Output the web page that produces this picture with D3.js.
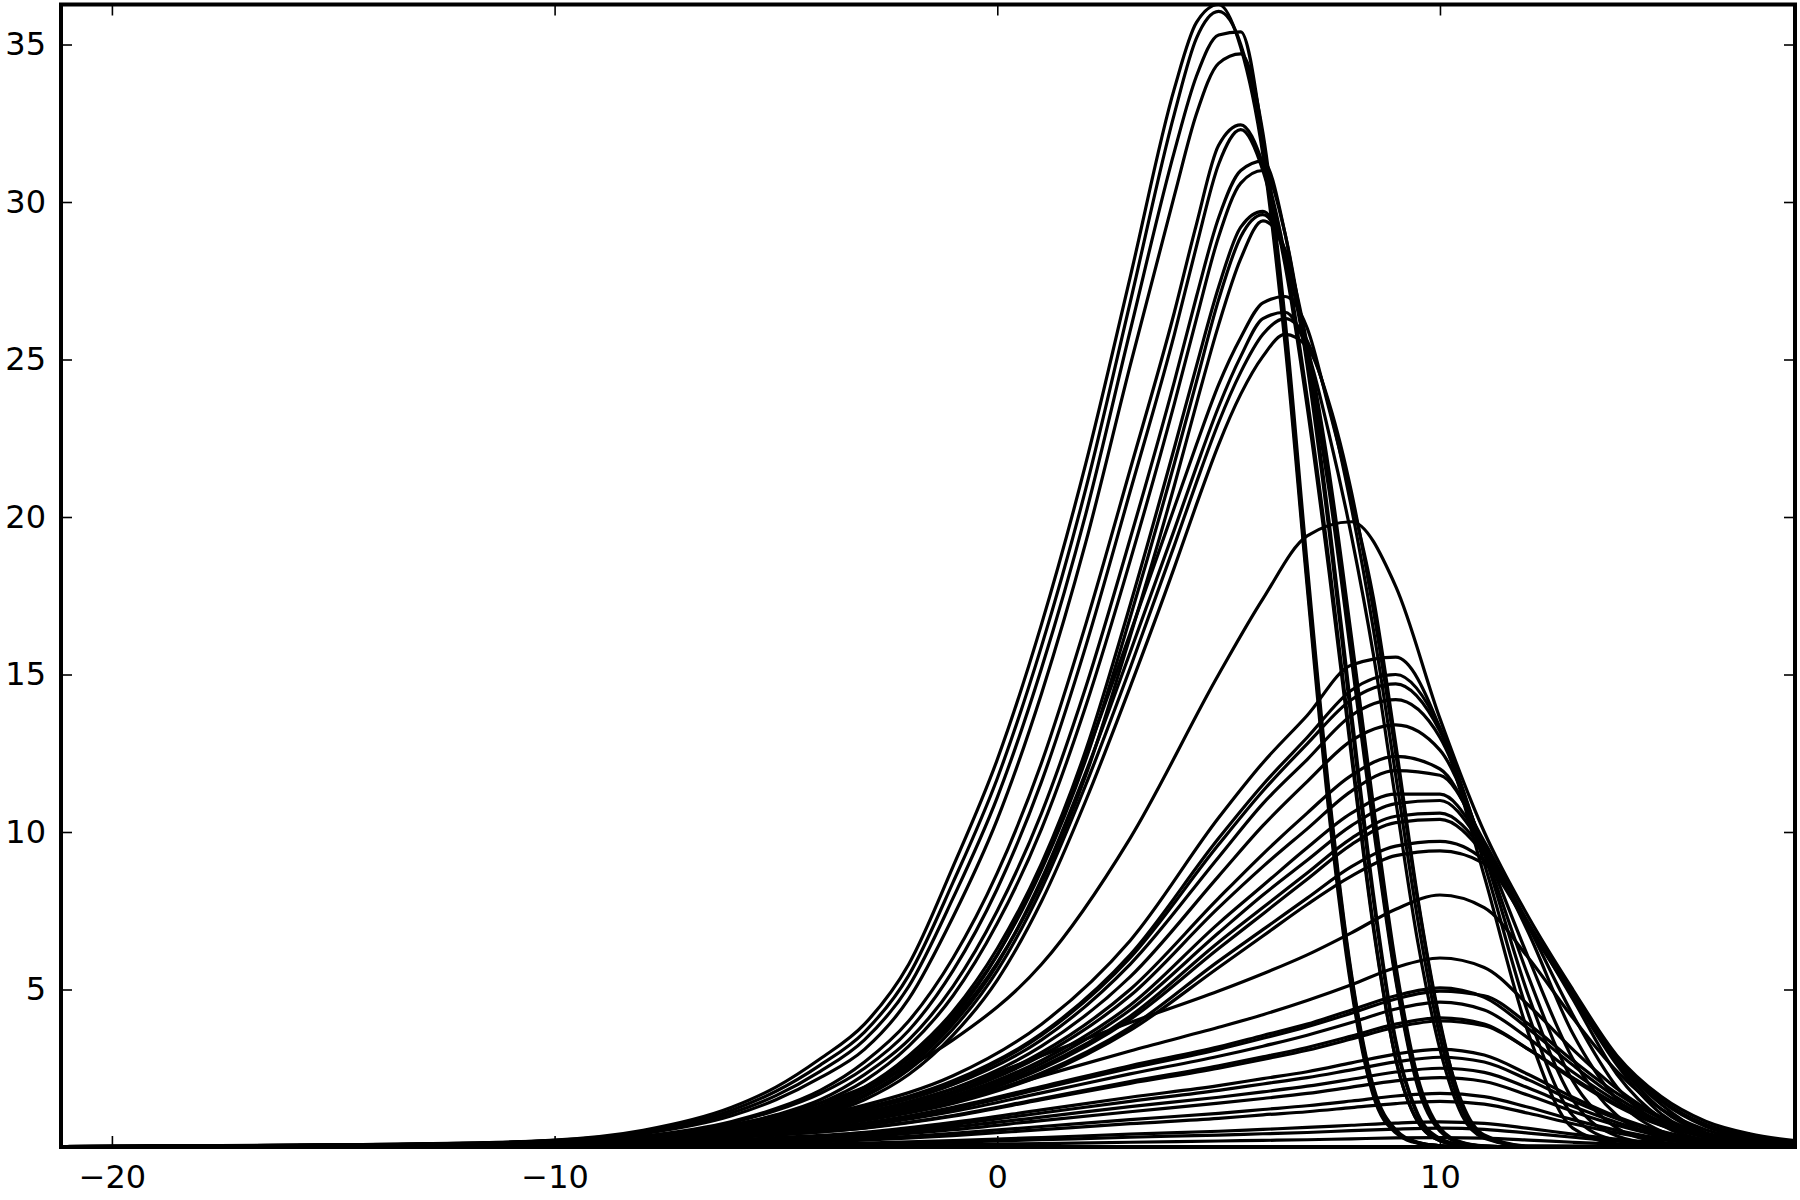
<!DOCTYPE html>
<html>
<head>
<meta charset="utf-8">
<script src="https://cdn.jsdelivr.net/npm/d3@7"></script>
<style>
  html, body { margin: 0; padding: 0; background: #fff; }
</style>
</head>
<body>
<script>
// x grid of the tall, narrow peaks (family A)
const xGridTall = [-21.15, -15, -10, -8, -6, -5, -4, -3, -2, -1, 0, 1, 2, 3, 4, 4.5, 5, 5.5, 6, 6.5, 7, 7.5, 8, 8.5, 9, 9.5, 10, 10.5, 11, 12, 18.02];

// tall curves (peaks 36.3 down to 25.8)
const tallCurves = [
  [0.006, 0.025, 0.22, 0.53, 1.26, 1.9, 2.8, 3.9, 5.8, 8.9, 12.3, 16.6, 21.7, 27.6, 33.6, 35.7, 36.27, 34.9, 31.5, 25.5, 17.8, 10.5, 5.0, 1.6, 0.45, 0.12, 0.04, 0.01, 0, 0, 0],
  [0.005, 0.023, 0.21, 0.49, 1.17, 1.77, 2.6, 3.65, 5.45, 8.4, 11.7, 15.9, 20.9, 26.8, 32.8, 35.2, 36.05, 35.0, 31.8, 25.8, 18.0, 10.8, 5.2, 1.7, 0.5, 0.13, 0.04, 0.01, 0, 0, 0],
  [0.005, 0.022, 0.19, 0.46, 1.08, 1.63, 2.4, 3.4, 5.1, 7.9, 11.1, 15.2, 20.1, 25.9, 31.6, 34.0, 35.3, 35.4, 32.0, 26.0, 18.2, 11.0, 5.4, 1.8, 0.5, 0.14, 0.04, 0.01, 0, 0, 0],
  [0.004, 0.02, 0.18, 0.42, 0.99, 1.5, 2.2, 3.1, 4.7, 7.3, 10.4, 14.4, 19.2, 24.8, 30.2, 32.8, 34.4, 34.7, 32.2, 26.3, 18.5, 11.2, 5.5, 1.9, 0.55, 0.15, 0.04, 0.01, 0, 0, 0],
  [0.004, 0.016, 0.14, 0.34, 0.81, 1.22, 1.8, 2.7, 4.0, 6.0, 8.7, 12.2, 16.6, 21.5, 26.5, 29.3, 31.8, 32.45, 31.2, 28.3, 23.8, 18.5, 12.6, 7.0, 2.8, 0.8, 0.2, 0.05, 0.01, 0, 0],
  [0.003, 0.015, 0.14, 0.32, 0.77, 1.16, 1.7, 2.5, 3.7, 5.6, 8.2, 11.6, 15.9, 20.8, 25.8, 28.6, 31.2, 32.3, 31.0, 28.0, 23.5, 18.2, 12.4, 6.9, 2.8, 0.8, 0.2, 0.05, 0.01, 0, 0],
  [0.003, 0.014, 0.12, 0.29, 0.68, 1.02, 1.5, 2.3, 3.4, 5.1, 7.5, 10.6, 14.6, 19.3, 24.3, 27.0, 29.5, 31.0, 31.3, 29.0, 24.8, 19.5, 13.5, 7.8, 3.3, 1.0, 0.25, 0.06, 0.01, 0, 0],
  [0.003, 0.013, 0.11, 0.27, 0.63, 0.95, 1.4, 2.1, 3.2, 4.8, 7.1, 10.1, 14.0, 18.6, 23.6, 26.3, 28.9, 30.6, 31.0, 29.0, 25.0, 19.8, 13.8, 8.0, 3.4, 1.05, 0.27, 0.06, 0.01, 0, 0],
  [0.003, 0.012, 0.1, 0.25, 0.59, 0.88, 1.3, 1.9, 2.9, 4.3, 6.3, 9.0, 12.6, 17.2, 22.2, 24.8, 27.3, 29.2, 29.7, 28.4, 25.2, 21.0, 15.7, 10.3, 5.4, 2.0, 0.55, 0.13, 0.03, 0, 0],
  [0.003, 0.011, 0.1, 0.24, 0.56, 0.85, 1.25, 1.85, 2.8, 4.2, 6.1, 8.8, 12.3, 16.8, 21.7, 24.3, 26.9, 28.9, 29.6, 28.3, 25.0, 20.8, 15.5, 10.1, 5.3, 1.9, 0.5, 0.12, 0.03, 0, 0],
  [0.002, 0.011, 0.1, 0.23, 0.54, 0.82, 1.2, 1.75, 2.65, 4.0, 5.85, 8.4, 11.8, 16.2, 21.0, 23.6, 26.1, 28.2, 29.4, 28.5, 25.5, 21.4, 16.2, 10.8, 5.8, 2.2, 0.6, 0.15, 0.04, 0, 0],
  [0.002, 0.01, 0.09, 0.22, 0.52, 0.78, 1.15, 1.75, 2.7, 4.1, 6.1, 8.9, 12.4, 16.3, 20.3, 22.3, 24.2, 25.7, 26.8, 27.0, 26.0, 23.4, 20.6, 17.4, 12.8, 7.9, 4.0, 1.3, 0.35, 0.02, 0],
  [0.002, 0.01, 0.09, 0.21, 0.5, 0.75, 1.1, 1.65, 2.55, 3.9, 5.8, 8.5, 11.9, 15.7, 19.6, 21.6, 23.5, 25.1, 26.3, 26.5, 25.3, 22.6, 19.4, 15.6, 11.0, 6.5, 3.1, 1.0, 0.28, 0.02, 0],
  [0.002, 0.009, 0.08, 0.2, 0.47, 0.71, 1.05, 1.6, 2.45, 3.75, 5.6, 8.2, 11.5, 15.2, 19.1, 21.1, 23.0, 24.6, 25.8, 26.3, 25.6, 23.5, 20.3, 16.4, 11.8, 7.2, 3.5, 1.2, 0.32, 0.02, 0],
  [0.002, 0.009, 0.08, 0.19, 0.45, 0.68, 1.0, 1.5, 2.3, 3.55, 5.3, 7.8, 11.0, 14.6, 18.4, 20.4, 22.3, 23.9, 25.1, 25.8, 25.4, 23.6, 20.8, 17.0, 12.5, 7.8, 3.9, 1.4, 0.38, 0.03, 0]
];

// x grid of the broad, lower peaks (family B)
const xGridBroad = [-21.15, -15, -10, -7, -5, -3, -1, 1, 3, 5, 6, 7, 8, 9, 10, 11, 12, 13, 14, 15, 16, 17, 18.02];

// broad curves (peaks 19.9 down to 0.3)
const broadCurves = [
  [0.003, 0.03, 0.18, 0.5, 1.0, 1.9, 3.4, 5.8, 9.8, 15.0, 17.4, 19.4, 19.85, 17.8, 13.6, 10.0, 7.3, 5.0, 2.9, 1.6, 0.82, 0.42, 0.2],
  [0.016, 0.06, 0.19, 0.44, 0.78, 1.33, 2.26, 3.9, 6.55, 10.45, 12.2, 13.7, 15.3, 15.55, 13.3, 8.6, 3.6, 0.6, 0.1, 0.02, 0, 0, 0],
  [0.015, 0.058, 0.18, 0.42, 0.74, 1.25, 2.1, 3.6, 6.1, 9.8, 11.5, 13.0, 14.5, 15.0, 13.3, 9.0, 4.2, 1.0, 0.2, 0.04, 0.01, 0, 0],
  [0.015, 0.057, 0.18, 0.41, 0.72, 1.22, 2.05, 3.55, 6.0, 9.6, 11.3, 12.8, 14.2, 14.7, 13.2, 9.3, 4.8, 1.5, 0.35, 0.07, 0.01, 0, 0],
  [0.014, 0.055, 0.17, 0.39, 0.7, 1.18, 1.98, 3.4, 5.8, 9.2, 10.9, 12.3, 13.7, 14.2, 13.0, 9.4, 5.4, 2.1, 0.6, 0.15, 0.03, 0.01, 0],
  [0.013, 0.052, 0.16, 0.37, 0.66, 1.1, 1.85, 3.2, 5.4, 8.6, 10.2, 11.6, 12.9, 13.4, 12.6, 9.5, 6.0, 2.8, 1.0, 0.3, 0.08, 0.02, 0.01],
  [0.012, 0.05, 0.15, 0.35, 0.62, 1.05, 1.75, 3.0, 5.0, 7.9, 9.3, 10.6, 11.8, 12.4, 12.0, 9.6, 6.8, 3.6, 1.5, 0.5, 0.16, 0.05, 0.01],
  [0.012, 0.048, 0.15, 0.34, 0.6, 1.02, 1.7, 2.9, 4.8, 7.6, 8.9, 10.1, 11.3, 11.95, 11.8, 9.7, 7.0, 4.2, 1.9, 0.7, 0.22, 0.07, 0.02],
  [0.011, 0.046, 0.14, 0.33, 0.58, 0.98, 1.62, 2.75, 4.5, 7.1, 8.3, 9.5, 10.6, 11.2, 11.2, 9.6, 7.1, 4.7, 2.3, 0.9, 0.3, 0.1, 0.03],
  [0.011, 0.045, 0.14, 0.32, 0.56, 0.95, 1.57, 2.65, 4.35, 6.8, 8.0, 9.1, 10.2, 10.9, 11.0, 9.5, 7.1, 4.8, 2.6, 1.05, 0.36, 0.11, 0.03],
  [0.011, 0.044, 0.13, 0.31, 0.54, 0.92, 1.52, 2.55, 4.15, 6.5, 7.6, 8.7, 9.8, 10.5, 10.6, 9.4, 7.0, 4.8, 2.7, 1.2, 0.42, 0.13, 0.04],
  [0.010, 0.043, 0.13, 0.3, 0.53, 0.9, 1.48, 2.48, 4.05, 6.3, 7.4, 8.5, 9.6, 10.3, 10.4, 9.3, 7.0, 4.85, 2.75, 1.35, 0.45, 0.14, 0.04],
  [0.010, 0.041, 0.12, 0.29, 0.51, 0.86, 1.42, 2.35, 3.8, 5.9, 6.9, 7.9, 8.9, 9.55, 9.7, 9.1, 7.05, 4.9, 2.8, 1.45, 0.65, 0.28, 0.1],
  [0.010, 0.04, 0.12, 0.28, 0.5, 0.84, 1.38, 2.28, 3.7, 5.7, 6.7, 7.7, 8.6, 9.25, 9.4, 9.0, 7.0, 4.9, 2.85, 1.5, 0.72, 0.35, 0.15],
  [0.014, 0.07, 0.2, 0.42, 0.68, 1.1, 1.85, 2.9, 3.95, 4.95, 5.5, 6.1, 6.8, 7.55, 8.0, 7.6, 6.0, 4.1, 2.4, 1.2, 0.55, 0.24, 0.1],
  [0.011, 0.055, 0.16, 0.33, 0.54, 0.86, 1.45, 2.25, 3.05, 3.8, 4.2, 4.65, 5.15, 5.7, 6.0, 5.7, 4.5, 3.1, 1.85, 0.95, 0.44, 0.2, 0.08],
  [0.01, 0.05, 0.15, 0.3, 0.48, 0.76, 1.26, 1.92, 2.58, 3.18, 3.54, 3.9, 4.35, 4.8, 5.05, 4.75, 3.75, 2.6, 1.57, 0.81, 0.38, 0.18, 0.08],
  [0.01, 0.05, 0.15, 0.29, 0.46, 0.72, 1.2, 1.85, 2.5, 3.1, 3.45, 3.82, 4.25, 4.7, 4.95, 4.8, 3.9, 2.75, 1.7, 0.9, 0.42, 0.2, 0.08],
  [0.009, 0.045, 0.14, 0.27, 0.43, 0.68, 1.13, 1.72, 2.32, 2.88, 3.2, 3.55, 3.95, 4.38, 4.6, 4.35, 3.45, 2.38, 1.45, 0.75, 0.35, 0.16, 0.07],
  [0.008, 0.04, 0.12, 0.24, 0.39, 0.61, 1.0, 1.54, 2.08, 2.58, 2.86, 3.16, 3.52, 3.9, 4.1, 3.9, 3.1, 2.15, 1.3, 0.68, 0.32, 0.15, 0.06],
  [0.008, 0.04, 0.12, 0.24, 0.38, 0.6, 0.98, 1.5, 2.02, 2.5, 2.78, 3.07, 3.43, 3.8, 4.0, 3.85, 3.1, 2.2, 1.35, 0.7, 0.33, 0.15, 0.06],
  [0.006, 0.031, 0.093, 0.186, 0.295, 0.465, 0.78, 1.18, 1.58, 1.95, 2.17, 2.39, 2.67, 2.95, 3.1, 2.92, 2.3, 1.58, 0.96, 0.5, 0.23, 0.11, 0.05],
  [0.006, 0.029, 0.086, 0.17, 0.27, 0.43, 0.71, 1.08, 1.45, 1.8, 2.0, 2.2, 2.45, 2.7, 2.85, 2.7, 2.13, 1.47, 0.9, 0.46, 0.22, 0.1, 0.04],
  [0.005, 0.025, 0.075, 0.15, 0.24, 0.38, 0.63, 0.95, 1.28, 1.58, 1.75, 1.93, 2.15, 2.38, 2.5, 2.37, 1.87, 1.29, 0.78, 0.4, 0.19, 0.09, 0.04],
  [0.004, 0.022, 0.066, 0.13, 0.21, 0.33, 0.55, 0.84, 1.12, 1.39, 1.54, 1.7, 1.9, 2.1, 2.2, 2.08, 1.64, 1.13, 0.69, 0.35, 0.17, 0.08, 0.03],
  [0.003, 0.017, 0.05, 0.1, 0.16, 0.26, 0.43, 0.65, 0.87, 1.07, 1.19, 1.31, 1.46, 1.62, 1.7, 1.6, 1.26, 0.87, 0.53, 0.27, 0.13, 0.06, 0.03],
  [0.003, 0.015, 0.044, 0.087, 0.14, 0.22, 0.36, 0.55, 0.74, 0.91, 1.02, 1.12, 1.25, 1.38, 1.45, 1.36, 1.07, 0.74, 0.45, 0.23, 0.11, 0.05, 0.02],
  [0.002, 0.008, 0.024, 0.048, 0.076, 0.12, 0.2, 0.3, 0.41, 0.5, 0.56, 0.62, 0.69, 0.76, 0.8, 0.75, 0.59, 0.41, 0.25, 0.13, 0.06, 0.03, 0.01],
  [0.001, 0.006, 0.018, 0.036, 0.057, 0.09, 0.15, 0.23, 0.31, 0.38, 0.42, 0.46, 0.52, 0.57, 0.6, 0.56, 0.44, 0.31, 0.19, 0.1, 0.05, 0.02, 0.01],
  [0.001, 0.003, 0.009, 0.018, 0.029, 0.045, 0.075, 0.11, 0.15, 0.19, 0.21, 0.23, 0.26, 0.29, 0.3, 0.28, 0.22, 0.15, 0.09, 0.05, 0.02, 0.01, 0]
];

const xTicks = [-20, -10, 0, 10];
const yTicks = [5, 10, 15, 20, 25, 30, 35];

const W = 1800, H = 1200;
const mLeft = 61, mRight = 1795, mTop = 4.5, mBottom = 1147;

const svg = d3.select('body').append('svg')
    .attr('width', W)
    .attr('height', H);

const x = d3.scaleLinear().domain([-21.15, 18.02]).range([mLeft, mRight]);
const y = d3.scaleLinear().domain([0, 36.27]).range([mBottom, mTop]);

svg.append('clipPath').attr('id', 'plotclip')
  .append('rect')
    .attr('x', mLeft).attr('y', mTop)
    .attr('width', mRight - mLeft).attr('height', mBottom - mTop);

const plot = svg.append('g').attr('clip-path', 'url(#plotclip)');

function drawFamily(grid, curves) {
  const line = d3.line()
      .x((d, i) => x(grid[i]))
      .y(d => y(d))
      .curve(d3.curveMonotoneX);
  plot.selectAll(null)
    .data(curves)
    .enter().append('path')
      .attr('d', line)
      .attr('fill', 'none')
      .attr('stroke', '#000')
      .attr('stroke-width', 3.2)
      .attr('stroke-linejoin', 'round');
}

drawFamily(xGridBroad, broadCurves);
drawFamily(xGridTall, tallCurves);

// axes: ticks point inward on all four sides
function styleAxis(g) {
  g.select('.domain').remove();
  g.attr('font-family', 'DejaVu Sans').attr('font-size', 32);
  g.selectAll('line').attr('stroke', '#000').attr('stroke-width', 1.6);
  g.selectAll('text').attr('fill', '#000');
}

svg.append('g')
    .attr('transform', `translate(0,${mBottom})`)
    .call(d3.axisBottom(x).tickValues(xTicks).tickSizeInner(-11).tickSizeOuter(0).tickPadding(18))
    .call(styleAxis);

svg.append('g')
    .attr('transform', `translate(0,${mTop})`)
    .call(d3.axisTop(x).tickValues(xTicks).tickFormat('').tickSizeInner(-11).tickSizeOuter(0))
    .call(styleAxis);

svg.append('g')
    .attr('transform', `translate(${mLeft},0)`)
    .call(d3.axisLeft(y).tickValues(yTicks).tickSizeInner(-11).tickSizeOuter(0).tickPadding(15))
    .call(styleAxis);

svg.append('g')
    .attr('transform', `translate(${mRight},0)`)
    .call(d3.axisRight(y).tickValues(yTicks).tickFormat('').tickSizeInner(-11).tickSizeOuter(0))
    .call(styleAxis);

// frame
svg.append('rect')
    .attr('x', mLeft).attr('y', mTop)
    .attr('width', mRight - mLeft).attr('height', mBottom - mTop)
    .attr('fill', 'none')
    .attr('stroke', '#000')
    .attr('stroke-width', 4);
</script>
</body>
</html>
